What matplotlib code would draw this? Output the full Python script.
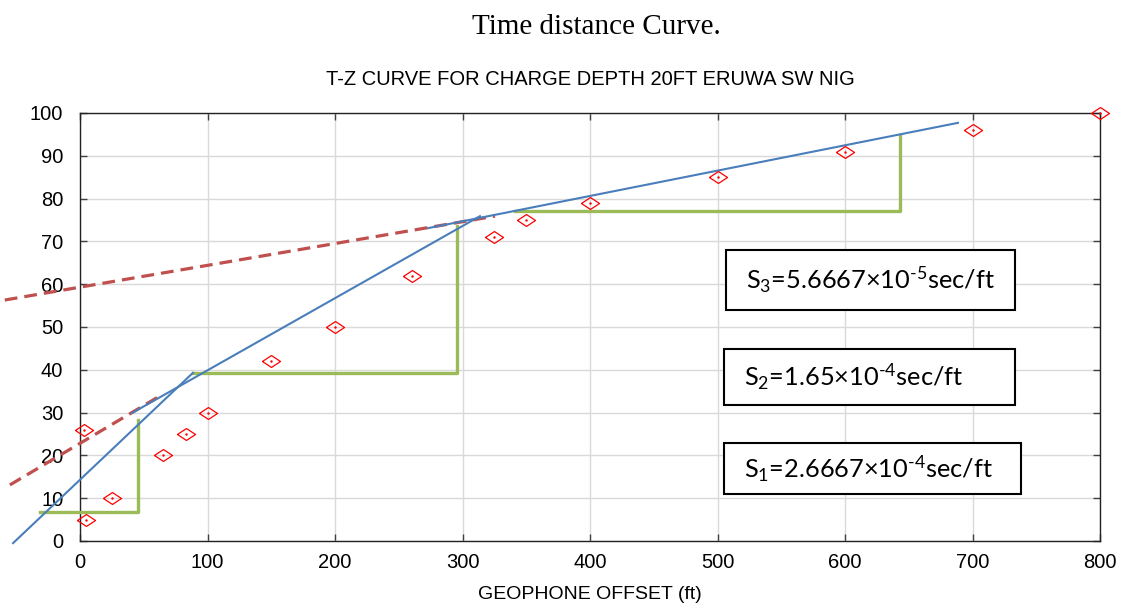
import matplotlib
matplotlib.use("Agg")
import matplotlib.pyplot as plt
import numpy as np

plt.rcParams["font.family"] = ["Liberation Sans", "DejaVu Sans"]
plt.rcParams["mathtext.fontset"] = "custom"
plt.rcParams["mathtext.rm"] = "Lato"
plt.rcParams["mathtext.it"] = "Lato:italic"

# picked travel times
offset = [5, 3, 25, 65, 83, 100, 150, 200, 260, 325, 350, 400, 500, 600, 700, 800]
time_ms = [5, 26, 10, 20, 25, 30, 42, 50, 62, 71, 75, 79, 85, 91, 96, 100]

# fitted segments (x pair, y pair)
blue_x = [[-52.5, 88.6], [40.8, 313.7], [273, 688.6]]
blue_y = [[-0.5, 39.3], [29.9, 75.9], [73.1, 97.7]]
dash_x = [[-55, 65], [-59, 325.5]]
dash_y = [[13.1, 34.3], [56.3, 75.9]]
# slope triangles
green_x = [[-31.4, 45.5, 45.5], [88.6, 295.7, 295.7], [341, 643, 643]]
green_y = [[6.8, 6.8, 28.3], [39.3, 39.3, 73.5], [77, 77, 94.9]]

labels = [r"S$_{3}$=5.6667×10$^{\text{-5}}$sec/ft", r"S$_{2}$=1.65×10$^{\text{-4}}$sec/ft",
          r"S$_{1}$=2.6667×10$^{\text{-4}}$sec/ft"]

fig = plt.figure(figsize=(11.21, 6.07), dpi=100)
ax = fig.add_axes([80 / 1121, 1 - 541 / 607, 1020 / 1121, 428 / 607])

for xs, ys in zip(green_x, green_y):
    ax.plot(xs, ys, color="#9bbb59", lw=2.4, clip_on=False, zorder=3)
for xs, ys in zip(dash_x, dash_y):
    ax.plot(xs, ys, color="#c0504d", lw=2.3, ls=(0, (4, 2.2)), clip_on=False, zorder=4)
for xs, ys in zip(blue_x, blue_y):
    ax.plot(xs, ys, color="#4a7ebb", lw=1.5, clip_on=False, zorder=5)

diamond = [(-1, 0), (0, 0.66), (1, 0), (0, -0.66), (-1, 0)]
ax.plot(offset, time_ms, ls="none", marker=diamond, ms=13, mfc="none", mec="red",
        mew=0.9, clip_on=False, zorder=6)
ax.plot(offset, time_ms, ls="none", marker=".", ms=1.5, color="red", clip_on=False, zorder=6)

ax.set_xlim(0, 800)
ax.set_ylim(0, 100)
ax.set_xticks(np.arange(0, 801, 100))
ax.set_yticks(np.arange(0, 101, 10))
ax.grid(True, color="#d9d9d9", lw=1)
ax.set_axisbelow(True)
ax.tick_params(direction="in", length=5, width=1, color="#404040", labelsize=14.5,
               top=True, right=True)
ax.tick_params(axis="x", pad=9)
ax.tick_params(axis="y", pad=12)
for s in ax.spines.values():
    s.set_color("#222222")
    s.set_linewidth(1)

ax.set_xlabel("GEOPHONE OFFSET (ft)", fontsize=14, labelpad=10)
ax.set_title("T-Z CURVE FOR CHARGE DEPTH 20FT ERUWA SW NIG", fontsize=14.5, pad=20)
fig.text(596 / 1121, 1 - 27 / 607, "Time distance Curve.", family="Liberation Serif",
         fontsize=21, ha="center", va="center")

boxes = [(726, 250, 1015, 310), (724, 349, 1015, 405), (724, 443, 1021, 494)]
for (x0, y0, x1, y1), lab in zip(boxes, labels):
    fig.patches.append(plt.Rectangle((x0 / 1121, 1 - y1 / 607), (x1 - x0) / 1121,
                                     (y1 - y0) / 607, transform=fig.transFigure,
                                     fill=True, fc="white", ec="black", lw=1.5, zorder=10))
    fig.text((x0 + 20) / 1121, 1 - (y0 + y1) / 2 / 607, lab, family="Lato", fontsize=18.3,
             ha="left", va="center", zorder=11)

fig.savefig("out.png", dpi=100)
